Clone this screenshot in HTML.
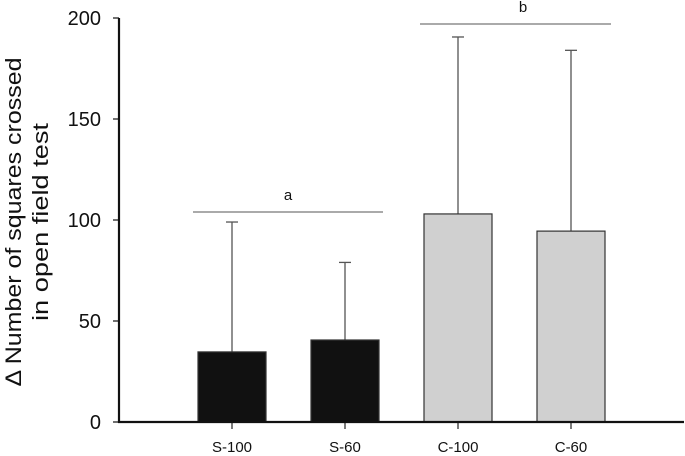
<!DOCTYPE html>
<html><head><meta charset="utf-8"><style>
html,body{margin:0;padding:0;background:#fff;}
svg{display:block;font-family:"Liberation Sans",Arial,sans-serif;}
</style></head><body>
<svg width="685" height="456" viewBox="0 0 685 456">
<g id="plot"></g>
</svg>
<script>
const categories = ["S-100","S-60","C-100","C-60"];
const means = [34.7, 40.6, 103, 94.5];
const errors = [64.3, 38.4, 87.6, 89.5];
const yTicks = [0, 50, 100, 150, 200];
const groupLabels = ["a","b"];

const svgNS = "http://www.w3.org/2000/svg";
const g = document.getElementById('plot');
const x0 = 119, xEnd = 684, y0 = 422, pxPerUnit = 2.02;
const firstCenter = 232, step = 113, barW = 68;
const yScale = v => y0 - v * pxPerUnit;
const xScale = i => firstCenter + i * step;
const fills = ["#111111","#111111","#d0d0d0","#d0d0d0"];

function mk(tag, attrs, text){
  const e = document.createElementNS(svgNS, tag);
  for (const k in attrs) e.setAttribute(k, attrs[k]);
  if (text !== undefined) e.textContent = text;
  g.appendChild(e);
  return e;
}

categories.forEach((c, i) => {
  const cx = xScale(i), top = yScale(means[i]), et = yScale(means[i] + errors[i]);
  const l = mk('line', {x1:cx, x2:cx, y1:top, y2:et, stroke:'#555', 'stroke-width':1.3});
  
  
  const cap = mk('line', {x1:cx-6, x2:cx+6, y1:et, y2:et, stroke:'#555', 'stroke-width':1.3});
  
  
  const r = mk('rect', {x:cx-barW/2, y:top, width:barW, height:y0-top, fill:fills[i], stroke:'#333', 'stroke-width':1.2});
  
  
  const t = mk('line', {x1:cx, x2:cx, y1:y0, y2:y0+7, stroke:'#222', 'stroke-width':1.2});
  
  
  const lb = mk('text', {x:cx, y:452, 'text-anchor':'middle', 'font-size':15, fill:'#111'}, c);
  
  
});

const ya = mk('line', {x1:x0, x2:x0, y1:yScale(200), y2:y0+1, stroke:'#111', 'stroke-width':2.2});


const xa = mk('line', {x1:x0-1, x2:xEnd, y1:y0, y2:y0, stroke:'#111', 'stroke-width':2.2});



yTicks.forEach(v => {
  const y = yScale(v);
  const t = mk('line', {x1:x0-6, x2:x0, y1:y, y2:y, stroke:'#111', 'stroke-width':1.2});
  
  
  const lb = mk('text', {x:101, y:y+7, 'text-anchor':'end', 'font-size':20, fill:'#111'}, String(v));
  
  
});

const brackets = [[193, 383, 212], [420, 611, 24]];
brackets.forEach((b, i) => {
  const l = mk('line', {x1:b[0], x2:b[1], y1:b[2], y2:b[2], stroke:'#777', 'stroke-width':1.3});
  
  
  const t = mk('text', {x:(i===0?288:523), y:b[2]-12, 'text-anchor':'middle', 'font-size':15, fill:'#111'}, groupLabels[i]);
  
  
});

const yt = mk('text', {transform:'translate(21,222) rotate(-90)', 'text-anchor':'middle', 'font-size':22, textLength:329, lengthAdjust:'spacingAndGlyphs', fill:'#111'}, '\u0394 Number of squares crossed');


const yt2 = mk('text', {transform:'translate(48,222) rotate(-90)', 'text-anchor':'middle', 'font-size':22, textLength:198, lengthAdjust:'spacingAndGlyphs', fill:'#111'}, 'in open field test');


</script>
</body></html>
